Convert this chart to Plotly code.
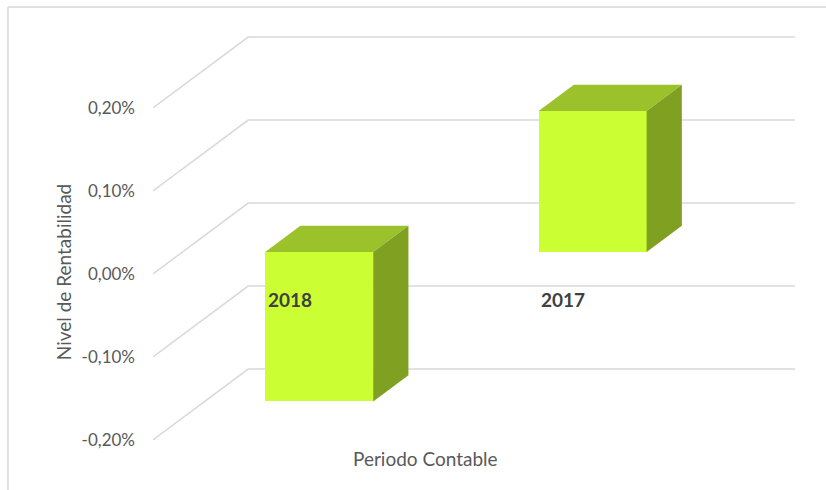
import plotly.graph_objects as go

# ---- data ----
categories = ["2018", "2017"]
values = [-0.0018, 0.0017]          # rentabilidad (fraction)
tick_vals = [-0.002, -0.001, 0.0, 0.001, 0.002]
tick_text = ["-0,20%", "-0,10%", "0,00%", "0,10%", "0,20%"]

# ---- 3D (oblique) projection settings, in axis units ----
DEPTH_X = 0.348        # full depth shift along x (category units)
DEPTH_Y = 0.000855     # full depth shift along y (value units)
BAR_FRONT = 0.31       # depth fraction where bar front face sits
BAR_DEPTH = 0.37       # bar depth as fraction of full depth
BAR_W = 0.395

FRONT_C = "#CCFF33"
TOP_C = "#9CC22B"
SIDE_C = "#7FA020"
GRID_C = "#d9d9d9"
TXT_C = "#595959"

fig = go.Figure()

# gridlines (floor/side-wall diagonals + back wall), below everything
x0, x1 = -0.5, len(categories) - 0.5
shapes = []
for t in tick_vals:
    shapes.append(dict(type="path", xref="x", yref="y", layer="below",
                       path=f"M {x0},{t} L {x0+DEPTH_X},{t+DEPTH_Y} L {x1+DEPTH_X},{t+DEPTH_Y}",
                       line=dict(color=GRID_C, width=1.5)))

# chart frame
shapes.append(dict(type="line", xref="paper", yref="paper", x0=-0.2259, x1=-0.2259,
                   y0=-0.3, y1=1.055, line=dict(color=GRID_C, width=1.5)))
shapes.append(dict(type="line", xref="paper", yref="paper", x0=-0.2259, x1=1.2,
                   y0=1.055, y1=1.055, line=dict(color=GRID_C, width=1.5)))

fx = BAR_FRONT * DEPTH_X
fy = BAR_FRONT * DEPTH_Y
bdx = BAR_DEPTH * DEPTH_X
bdy = BAR_DEPTH * DEPTH_Y

# front faces
fig.add_trace(go.Bar(x=[i + fx for i in range(len(categories))], y=values,
                     base=[fy] * len(values), width=BAR_W,
                     marker=dict(color=FRONT_C, line=dict(width=0)),
                     hoverinfo="skip", showlegend=False))

# top and side faces
for i, v in enumerate(values):
    xl = i + fx - BAR_W / 2
    xr = i + fx + BAR_W / 2
    top = fy + max(v, 0)
    bot = fy + min(v, 0)
    fig.add_trace(go.Scatter(
        x=[xl, xr, xr + bdx, xl + bdx, xl],
        y=[top, top, top + bdy, top + bdy, top],
        fill="toself", fillcolor=TOP_C, mode="lines", line=dict(width=0, color=TOP_C),
        hoverinfo="skip", showlegend=False))
    fig.add_trace(go.Scatter(
        x=[xr, xr + bdx, xr + bdx, xr, xr],
        y=[top, top + bdy, bot + bdy, bot, top],
        fill="toself", fillcolor=SIDE_C, mode="lines", line=dict(width=0, color=SIDE_C),
        hoverinfo="skip", showlegend=False))

# category labels on the front plane
annotations = []
for i, c in enumerate(categories):
    annotations.append(dict(x=i, y=0, xref="x", yref="y", text=f"<b>{c}</b>",
                            showarrow=False, yshift=-25,
                            font=dict(family="Lato", size=19, color="#404040")))

annotations.append(dict(x=-0.14, y=0.421, xref="paper", yref="paper",
                        xanchor="center", yanchor="middle",
                        text="Nivel de Rentabilidad", textangle=-90, showarrow=False,
                        font=dict(family="Lato", size=19, color=TXT_C)))
annotations.append(dict(x=0.4237, y=-0.0263, xref="paper", yref="paper",
                        xanchor="center", yanchor="middle",
                        text="Periodo Contable", showarrow=False,
                        font=dict(family="Lato", size=19, color=TXT_C)))

PX_PER_UNIT = 83000.0
fig.update_layout(
    width=826, height=490,
    margin=dict(l=153, r=31, t=30, b=42),
    paper_bgcolor="white", plot_bgcolor="white",
    shapes=shapes, annotations=annotations,
    xaxis=dict(range=[x0, x1 + DEPTH_X], visible=False, fixedrange=True),
    yaxis=dict(range=[-(448 - 274) / PX_PER_UNIT, (274 - 30) / PX_PER_UNIT],
               tickvals=tick_vals, ticktext=tick_text, showgrid=False, zeroline=False,
               showline=False, ticks="", ticklabelstandoff=17, automargin=False,
               tickfont=dict(family="Lato", size=17, color=TXT_C)),
    bargap=0,
)

fig.write_html("out.html")
